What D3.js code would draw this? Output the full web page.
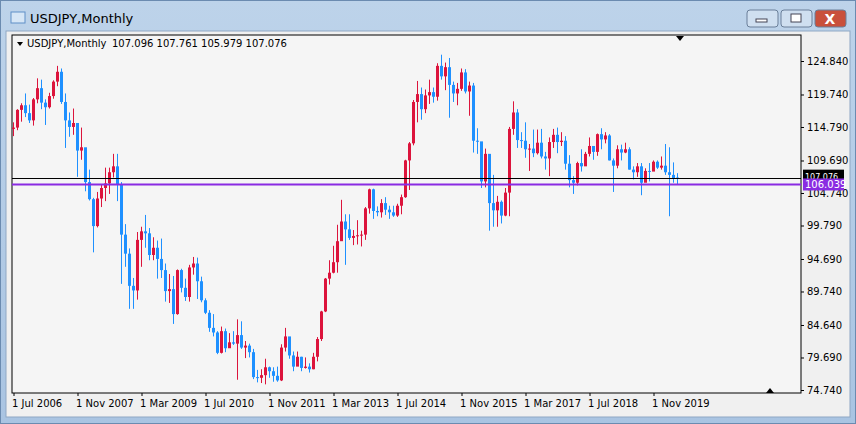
<!DOCTYPE html>
<html><head><meta charset="utf-8">
<script src="https://cdn.jsdelivr.net/npm/d3@7"></script>
<style>body{margin:0;background:#fff}text{font-family:Tahoma,"DejaVu Sans",sans-serif}</style>
</head><body><svg id="c" width="856" height="424"></svg>
<script>
// monthly USDJPY, Jul 2006 .. May 2020
var opens = [114.5,114.7,117.4,118.1,116.9,115.8,
 119.0,120.7,118.5,117.8,119.5,121.7,123.2,118.6,115.8,114.8,115.4,111.2,
 111.7,106.4,103.8,99.7,103.9,105.5,106.2,107.9,108.8,106.0,98.4,95.5,
 90.6,89.9,97.6,98.9,98.6,95.3,96.4,94.7,93.0,89.8,90.1,86.3,
 93.0,90.3,88.9,93.4,94.0,91.3,88.4,86.5,84.2,83.5,80.4,83.7,
 81.1,82.0,81.8,83.1,81.2,81.5,80.5,76.7,76.6,77.0,78.2,77.6,
 76.9,76.2,81.2,82.9,80.0,78.3,79.8,78.1,78.3,77.9,79.8,82.5,
 86.7,91.7,92.6,94.2,97.4,100.4,99.2,97.9,98.2,98.3,98.4,102.4,
 105.3,102.0,101.8,103.2,102.2,101.8,101.3,102.8,104.1,109.7,112.3,118.6,
 119.8,117.5,119.6,120.1,119.4,124.1,122.5,123.9,121.2,119.9,120.6,123.1,
 120.2,121.1,112.7,112.6,106.5,110.7,103.2,102.1,103.4,101.3,104.8,114.5,
 117.0,112.8,112.7,111.4,111.5,110.8,112.4,110.3,110.0,112.5,113.6,112.5,
 112.7,109.2,106.7,106.3,109.3,108.8,110.7,111.9,111.0,113.7,112.9,113.5,
 109.7,108.9,111.4,110.9,111.4,108.3,107.9,108.8,106.3,108.1,108.0,109.5,
 108.6,108.9,107.9,107.5,107.096];
var highs = [115.5,117.5,118.4,119.9,118.2,119.2,
 122.2,122.0,119.0,120.0,121.9,124.1,123.7,119.9,117.0,117.6,115.0,114.7,
 109.7,108.3,104.0,104.9,106.0,108.6,108.6,110.7,110.7,106.4,100.0,96.3,
 91.8,98.8,99.6,101.4,99.4,98.0,97.5,97.8,94.0,92.4,92.1,93.1,
 93.2,91.7,93.8,95.0,94.9,92.0,88.7,86.9,86.3,83.7,84.4,84.1,
 83.4,83.7,85.5,85.2,82.2,81.8,81.0,77.8,77.9,79.5,78.3,78.2,
 78.3,81.7,84.2,81.8,80.6,80.6,79.8,79.7,78.8,80.4,82.8,86.8,
 91.8,94.5,96.7,99.9,103.7,101.5,101.5,99.1,100.6,99.0,102.6,105.4,
 105.4,102.7,103.8,104.1,102.8,102.8,103.1,104.5,109.8,112.5,118.9,121.8,
 120.8,120.5,122.0,120.8,124.5,125.8,124.6,125.3,121.7,121.5,123.7,123.6,
 121.7,121.5,114.6,112.0,111.5,110.0,107.5,104.3,103.6,105.5,114.8,118.7,
 117.5,114.0,115.5,112.2,114.4,114.4,114.5,111.0,113.2,114.5,114.7,114.0,
 113.4,110.5,107.3,109.5,111.4,111.0,113.2,111.8,113.8,114.6,114.0,113.7,
 110.0,112.0,112.1,112.4,111.7,108.8,109.3,109.3,108.5,109.3,109.7,109.7,
 110.3,112.2,111.7,109.4,107.761];
var lows = [113.4,114.3,115.6,116.3,115.4,115.0,
 118.4,117.5,115.1,117.6,119.1,121.0,118.3,111.6,113.3,113.6,107.2,109.8,
 105.0,103.6,95.7,99.5,102.6,103.5,104.6,107.1,103.5,90.9,93.5,87.1,
 87.1,88.5,93.5,96.4,94.5,94.5,91.7,91.8,88.2,88.0,84.8,86.2,
 89.6,88.3,88.2,92.3,88.6,88.1,86.3,83.6,82.9,80.2,80.3,80.5,
 81.4,81.6,76.3,81.0,79.6,79.7,76.4,75.9,75.8,75.6,76.6,76.0,
 76.0,76.1,80.6,79.5,77.6,78.6,77.6,78.0,77.4,77.9,79.1,82.2,
 86.6,90.8,92.5,92.6,97.9,93.8,97.6,96.8,96.9,96.6,97.6,101.6,
 100.8,101.2,101.0,101.4,100.8,101.1,101.1,101.5,104.0,105.2,112.0,115.5,
 115.9,116.9,118.3,118.5,118.8,122.0,120.4,116.2,118.6,118.1,120.3,119.9,
 116.5,110.9,110.7,105.5,105.6,99.0,99.6,99.6,100.1,101.2,101.2,113.6,
 111.6,111.6,110.1,108.1,110.2,110.6,110.0,108.3,107.3,111.6,110.8,111.9,
 108.3,105.6,104.6,105.9,108.0,109.3,110.3,109.8,110.4,111.4,112.3,109.7,
 104.9,108.5,109.7,110.8,108.3,106.8,107.2,104.4,106.5,106.5,108.2,108.4,
 108.3,107.5,101.2,106.3,105.979];
var closes = [114.7,117.4,118.1,116.9,115.8,119.0,
 120.7,118.5,117.8,119.5,121.7,123.2,118.6,115.8,114.8,115.4,111.2,111.7,
 106.4,103.8,99.7,103.9,105.5,106.2,107.9,108.8,106.0,98.4,95.5,90.6,
 89.9,97.6,98.9,98.6,95.3,96.4,94.7,93.0,89.8,90.1,86.3,93.0,
 90.3,88.9,93.4,94.0,91.3,88.4,86.5,84.2,83.5,80.4,83.7,81.1,
 82.0,81.8,83.1,81.2,81.5,80.5,76.7,76.6,77.0,78.2,77.6,76.9,
 76.2,81.2,82.9,80.0,78.3,79.8,78.1,78.3,77.9,79.8,82.5,86.7,
 91.7,92.6,94.2,97.4,100.4,99.2,97.9,98.2,98.3,98.4,102.4,105.3,
 102.0,101.8,103.2,102.2,101.8,101.3,102.8,104.1,109.7,112.3,118.6,119.8,
 117.5,119.6,120.1,119.4,124.1,122.5,123.9,121.2,119.9,120.6,123.1,120.2,
 121.1,112.7,112.6,106.5,110.7,103.2,102.1,103.4,101.3,104.8,114.5,117.0,
 112.8,112.7,111.4,111.5,110.8,112.4,110.3,110.0,112.5,113.6,112.5,112.7,
 109.2,106.7,106.3,109.3,108.8,110.7,111.9,111.0,113.7,112.9,113.5,109.7,
 108.9,111.4,110.9,111.4,108.3,107.9,108.8,106.3,108.1,108.0,109.5,108.6,
 108.9,107.9,107.5,106.9,107.076];
var priceTicks = [124.840,119.740,114.790,109.690,104.740,99.790,94.690,89.740,84.640,79.690,74.740];
var dateLabels = ["1 Jul 2006","1 Nov 2007","1 Mar 2009","1 Jul 2010","1 Nov 2011","1 Mar 2013","1 Jul 2014","1 Nov 2015","1 Mar 2017","1 Jul 2018","1 Nov 2019"];
var dateIdx = [0,16,32,48,64,80,96,112,128,144,160];
var bid = 107.076, level = 106.039;
var header = "107.096 107.761 105.979 107.076";

var svg = d3.select("#c");
// window chrome
var g0 = svg.append("defs").append("linearGradient").attr("id","tb").attr("x1",0).attr("x2",0).attr("y1",0).attr("y2",1);
g0.append("stop").attr("offset",0).attr("stop-color","#bdd3ea");
g0.append("stop").attr("offset",1).attr("stop-color","#a9c4e2");
svg.append("rect").attr("width",856).attr("height",424).attr("fill","url(#tb)");
svg.append("rect").attr("x",0.5).attr("y",0.5).attr("width",855).attr("height",423).attr("fill","none").attr("stroke","#6b8bb0");
svg.append("rect").attr("x",6).attr("y",31).attr("width",844).attr("height",386).attr("fill","#f0f0f0").attr("stroke","#8fa7c4");
// icon
svg.append("rect").attr("x",11).attr("y",12).attr("width",14).attr("height",11).attr("fill","#d6e6f6").attr("stroke","#5f8fc7");
svg.append("text").attr("x",30).attr("y",23).attr("font-size",13).attr("fill","#000").text("USDJPY,Monthly");
// buttons
[[747,"#cfdff0"],[781,"#cfdff0"],[815,"#c9503c"]].forEach(function(b){
  svg.append("rect").attr("x",b[0]).attr("y",10).attr("width",31).attr("height",17).attr("rx",3).attr("fill",b[1]).attr("stroke","#6a7f99");
});
svg.append("rect").attr("x",756).attr("y",19).attr("width",11).attr("height",3).attr("fill","#fff").attr("stroke","#445");
svg.append("rect").attr("x",791).attr("y",14).attr("width",10).attr("height",8).attr("fill","#fff").attr("stroke","#445");
svg.append("text").attr("x",830).attr("y",24).attr("text-anchor","middle").attr("font-size",14).attr("font-weight","bold").attr("fill","#fff").text("X");

var L = 12, R = 801, T = 35, B = 393;
svg.append("rect").attr("x",L).attr("y",T).attr("width",R-L).attr("height",B-T).attr("fill","#f5f5f5").attr("stroke","#000");

var x = d3.scaleLinear().domain([0,1]).range([13.5,17.5]);
var y = d3.scaleLinear().domain([74.74,124.84]).range([390,61]);

var plot = svg.append("g");
var idx = d3.range(closes.length);
plot.selectAll("line.w").data(idx).enter().append("line")
  .attr("x1",function(i){return x(i);}).attr("x2",function(i){return x(i);})
  .attr("y1",function(i){return y(highs[i]);}).attr("y2",function(i){return y(lows[i]);})
  .attr("stroke",function(i){return closes[i]>=opens[i]?"#dc143c":"#1e90ff";});
plot.selectAll("rect.b").data(idx).enter().append("rect")
  .attr("x",function(i){return x(i)-1.5;}).attr("width",3)
  .attr("y",function(i){return y(Math.max(opens[i],closes[i]));})
  .attr("height",function(i){return Math.max(1,Math.abs(y(opens[i])-y(closes[i])));})
  .attr("fill",function(i){return closes[i]>=opens[i]?"#dc143c":"#1e90ff";});

// horizontal lines
svg.append("line").attr("x1",L).attr("x2",R).attr("y1",Math.round(y(bid))+0.5).attr("y2",Math.round(y(bid))+0.5).attr("stroke","#000");
svg.append("line").attr("x1",L).attr("x2",R).attr("y1",y(level)).attr("y2",y(level)).attr("stroke","#8a2be2").attr("stroke-width",2);

// right axis
var ra = svg.append("g").attr("transform","translate("+R+",0)")
  .call(d3.axisRight(y).tickValues(priceTicks).tickSize(3).tickPadding(3).tickFormat(d3.format(".3f")));
ra.select(".domain").remove();
ra.selectAll("text").attr("font-size",10).attr("font-family","Tahoma,'DejaVu Sans',sans-serif").attr("fill","#000");
ra.selectAll("line").attr("stroke","#000");
// price labels; the level label is drawn over the bid label as in the terminal
[[bid,"#000",-8],[level,"#8a2be2",-6]].forEach(function(p){
  var yy = y(p[0]);
  var g = svg.append("g");
  g.append("rect").attr("x",R+2).attr("y",yy+p[2]).attr("width",41).attr("height",12).attr("fill",p[1]);
  g.append("text").attr("x",R+4).attr("y",yy+p[2]+10).attr("font-size",p[1]=="#000"?8:10).attr("fill","#fff").text(d3.format(".3f")(p[0]));
});

// bottom axis
var ba = svg.append("g").attr("transform","translate(0,"+B+")")
  .call(d3.axisBottom(x).tickValues(dateIdx).tickSize(3).tickPadding(4).tickFormat(function(d,i){return dateLabels[i];}));
ba.select(".domain").remove();
ba.selectAll("text").attr("font-size",10).attr("text-anchor","start").attr("dx",-2).attr("font-family","Tahoma,'DejaVu Sans',sans-serif").attr("fill","#000");
ba.selectAll("line").attr("stroke","#000");

// header + markers
svg.append("path").attr("d","M17,42 L23,42 L20,46 Z").attr("fill","#000");
svg.append("text").attr("x",27).attr("y",47).attr("font-size",10).attr("fill","#000").text("USDJPY,Monthly");
svg.append("text").attr("x",112).attr("y",47).attr("font-size",10).attr("fill","#000").text(header);
svg.append("path").attr("d","M676,36 L684,36 L680,41 Z").attr("fill","#000");
svg.append("path").attr("d","M766,393 L774,393 L770,388 Z").attr("fill","#000");
</script></body></html>
